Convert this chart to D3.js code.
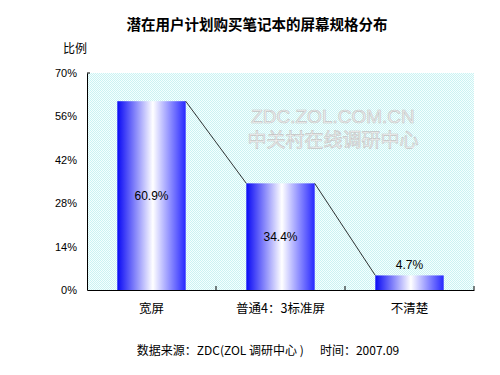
<!DOCTYPE html>
<html>
<head>
<meta charset="utf-8">
<script src="https://cdn.jsdelivr.net/npm/d3@7"></script>
<style>
body { margin: 0; background: #fff; }
text { font-family: "Noto Sans CJK SC", "DejaVu Sans", sans-serif; }
</style>
</head>
<body>
<div id="chart"></div>
<script>
var categories = ["宽屏", "普通4：3标准屏", "不清楚"];
var values = [60.9, 34.4, 4.7];
var yTicks = [0, 14, 28, 42, 56, 70];

var width = 500, height = 375;
var margin = {left: 87, right: 26, top: 73, bottom: 85};

var svg = d3.select("#chart").append("svg").attr("width", width).attr("height", height);

var defs = svg.append("defs");
var grad = defs.append("linearGradient").attr("id", "barGrad").attr("x1", "0%").attr("x2", "100%").attr("y1", "0%").attr("y2", "0%");
grad.append("stop").attr("offset", "0%").attr("stop-color", "#0a0af5");
grad.append("stop").attr("offset", "52%").attr("stop-color", "#ffffff");
grad.append("stop").attr("offset", "100%").attr("stop-color", "#2828ff");

var pat = defs.append("pattern").attr("id", "dots").attr("width", 2).attr("height", 2).attr("patternUnits", "userSpaceOnUse");
pat.append("rect").attr("width", 2).attr("height", 2).attr("fill", "#f4ffff");
pat.append("rect").attr("width", 1).attr("height", 1).attr("fill", "#ccf2f2");
pat.append("rect").attr("x", 1).attr("y", 1).attr("width", 1).attr("height", 1).attr("fill", "#ccf2f2");

var x = d3.scaleBand().domain(categories).range([margin.left, width - margin.right]).paddingInner(0).paddingOuter(0);
var y = d3.scaleLinear().domain([0, 70]).range([height - margin.bottom, margin.top]);

// plot area
svg.append("rect").attr("x", margin.left).attr("y", margin.top)
    .attr("width", width - margin.left - margin.right).attr("height", height - margin.top - margin.bottom)
    .attr("fill", "url(#dots)");

// watermark
svg.append("text").attr("x", 333).attr("y", 123).attr("text-anchor", "middle")
    .style("font-family", "Liberation Sans, Arial, sans-serif").style("font-size", "19px")
    .attr("fill", "#f2f2f2").attr("stroke", "#c4c4c4").attr("stroke-width", 0.6).text("ZDC.ZOL.COM.CN");
svg.append("text").attr("x", 333).attr("y", 147).attr("text-anchor", "middle")
    .style("font-size", "19px")
    .attr("fill", "#f2f2f2").attr("stroke", "#c4c4c4").attr("stroke-width", 0.6).text("中关村在线调研中心");

var bw = x.bandwidth() * 0.53;
svg.selectAll(".bar").data(values).enter().append("rect")
    .attr("x", function(d, i) { return x(categories[i]) + (x.bandwidth() - bw) / 2; })
    .attr("y", function(d) { return y(d); })
    .attr("width", bw)
    .attr("height", function(d) { return y(0) - y(d); })
    .attr("fill", "url(#barGrad)");

// connector lines
for (var i = 0; i < values.length - 1; i++) {
    svg.append("line")
        .attr("x1", x(categories[i]) + (x.bandwidth() + bw) / 2).attr("y1", y(values[i]))
        .attr("x2", x(categories[i + 1]) + (x.bandwidth() - bw) / 2).attr("y2", y(values[i + 1]))
        .attr("stroke", "#000").attr("stroke-width", 0.8);
}

// value labels
svg.selectAll(".val").data(values).enter().append("text")
    .attr("x", function(d, i) { return x(categories[i]) + x.bandwidth() / 2; })
    .attr("y", function(d) { return d > 10 ? (y(d) + y(0)) / 2 + 4 : y(d) - 6; })
    .attr("text-anchor", "middle")
    .style("font-family", "Liberation Sans, Arial, sans-serif").style("font-size", "12px")
    .text(function(d) { return d.toFixed(1) + "%"; });

// axes
var yAxis = d3.axisLeft(y).tickValues(yTicks).tickSize(0).tickPadding(10).tickFormat(function(d) { return d + "%"; });
var gy = svg.append("g").attr("transform", "translate(" + margin.left + ",0)").call(yAxis);
gy.select(".domain").attr("stroke", "#000");
gy.selectAll("text").style("font-family", "Liberation Sans, Arial, sans-serif").style("font-size", "11px").attr("fill", "#000");
gy.append("line").attr("x1", 0).attr("x2", 3).attr("y1", y(70)).attr("y2", y(70)).attr("stroke", "#000");

var xAxis = d3.axisBottom(x).tickSize(0).tickPadding(14);
var gx = svg.append("g").attr("transform", "translate(0," + y(0) + ")").call(xAxis);
gx.select(".domain").attr("stroke", "#000");
gx.selectAll("text").style("font-size", "12.5px").attr("fill", "#000");
var bounds = categories.map(function(c) { return x(c); }).slice(1).concat([x.range()[1]]);
gx.selectAll(".sep").data(bounds).enter().append("line")
    .attr("x1", function(d) { return d; }).attr("x2", function(d) { return d; })
    .attr("y1", 0).attr("y2", -4).attr("stroke", "#000");

// titles
svg.append("text").attr("x", 257).attr("y", 30).attr("text-anchor", "middle")
    .style("font-size", "14.5px").style("font-weight", "bold").text("潜在用户计划购买笔记本的屏幕规格分布");
svg.append("text").attr("x", 63).attr("y", 53).style("font-size", "12px").text("比例");
svg.append("text").attr("x", 268).attr("y", 355).attr("text-anchor", "middle")
    .style("font-size", "12px").attr("xml:space", "preserve").text("数据来源：ZDC(ZOL 调研中心 )      时间：2007.09");
</script>
</body>
</html>
